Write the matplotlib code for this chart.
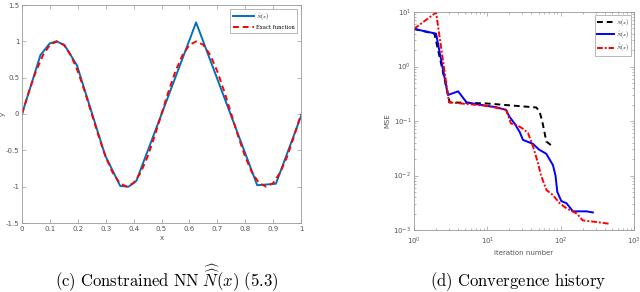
import matplotlib
matplotlib.use('Agg')
import matplotlib.pyplot as plt
from matplotlib.ticker import LogLocator, NullFormatter

plt.rcParams['mathtext.fontset'] = 'cm'

# (c) constrained NN vs exact function
x_nn = [0, 0.066, 0.099, 0.123, 0.152, 0.197, 0.298, 0.352, 0.382, 0.41,
        0.624, 0.843, 0.91, 1.0]
y_nn = [0, 0.81, 0.97, 1.0, 0.95, 0.67, -0.57, -0.99, -1.0, -0.92,
        1.26, -0.98, -0.96, -0.03]

x_exact = [0, 0.025, 0.05, 0.075, 0.1, 0.125, 0.15, 0.175, 0.2, 0.225,
           0.25, 0.275, 0.3, 0.325, 0.35, 0.375, 0.4, 0.425, 0.45, 0.475,
           0.5, 0.525, 0.55, 0.575, 0.6, 0.625, 0.65, 0.675, 0.7, 0.725,
           0.75, 0.775, 0.8, 0.825, 0.85, 0.875, 0.9, 0.925, 0.95, 0.975, 1.0]
y_exact = [0, 0.309, 0.588, 0.809, 0.951, 1.0, 0.951, 0.809, 0.588, 0.309,
           0, -0.309, -0.588, -0.809, -0.951, -1.0, -0.951, -0.809, -0.588, -0.309,
           0, 0.309, 0.588, 0.809, 0.951, 1.0, 0.951, 0.809, 0.588, 0.309,
           0, -0.309, -0.588, -0.809, -0.951, -1.0, -0.951, -0.809, -0.588, -0.309, 0]

# (d) convergence history
it_N = [1, 1.9, 3.07, 9.7, 46.6, 51.6, 56, 60.6, 63.7, 74, 80]
mse_N = [4.9, 4.0, 0.22, 0.21, 0.177, 0.148, 0.1, 0.059, 0.042, 0.036, 0.036]

it_hat = [1, 2, 2.9, 4, 5.2, 9.7, 13, 18, 20, 23.5, 27.6, 30.6, 42, 50.5,
          63.7, 78.5, 85, 90, 102, 120, 147, 224, 275]
mse_hat = [4.9, 4.0, 0.30, 0.35, 0.22, 0.19, 0.18, 0.16, 0.12, 0.09, 0.063,
           0.045, 0.038, 0.030, 0.025, 0.0155, 0.010, 0.005, 0.0034, 0.0031,
           0.0022, 0.0022, 0.0021]

it_hh = [1, 2, 3, 9.7, 18, 21, 25, 30.6, 35.9, 42, 49, 54, 64, 78, 97,
         120, 166, 200, 308, 467]
mse_hh = [4.9, 9.8, 0.22, 0.19, 0.16, 0.09, 0.085, 0.072, 0.06, 0.034, 0.017,
          0.010, 0.0054, 0.0044, 0.0031, 0.0025, 0.002, 0.0015, 0.0014, 0.0013]

fig = plt.figure(figsize=(6.4, 2.92), dpi=100)
W, H = 640.0, 292.0

tick_col = '#555555'
frame_col = '#999999'

def style(ax):
    for s in ax.spines.values():
        s.set_color(frame_col)
        s.set_linewidth(0.6)
    ax.tick_params(which='both', direction='in', top=True, right=True,
                   colors=frame_col, labelcolor=tick_col, labelsize=5,
                   width=0.5, pad=2)
    ax.tick_params(which='major', length=3)
    ax.tick_params(which='minor', length=1.5)

# left panel
ax1 = fig.add_axes([22 / W, 1 - 223 / H, (301 - 22) / W, (223 - 5) / H])
ax1.plot(x_nn, y_nn, color='#0072BD', lw=1.4, label=r'$\hat{N}(x)$')
ax1.plot(x_exact, y_exact, color='#FF0000', lw=1.4, ls=(0, (3, 2)),
         label='Exact function')
ax1.set_xlim(0, 1)
ax1.set_ylim(-1.5, 1.5)
ax1.set_xticks([0, 0.1, 0.2, 0.3, 0.4, 0.5, 0.6, 0.7, 0.8, 0.9, 1])
ax1.set_xticklabels(['0', '0.1', '0.2', '0.3', '0.4', '0.5', '0.6', '0.7', '0.8', '0.9', '1'])
ax1.set_yticks([-1.5, -1, -0.5, 0, 0.5, 1, 1.5])
ax1.set_yticklabels(['-1.5', '-1', '-0.5', '0', '0.5', '1', '1.5'])
style(ax1)
ax1.set_xlabel('x', fontsize=5, color=tick_col, labelpad=2)
ax1.set_ylabel('y', fontsize=5, color=tick_col)
ax1.yaxis.set_label_coords(-16 / (301 - 22), 0.5)
leg = ax1.legend(loc='upper right', prop={'family': 'DejaVu Serif', 'size': 3.8},
                 handlelength=4.0, handletextpad=0.4, frameon=True, fancybox=False,
                 borderaxespad=0.7, labelspacing=0.5, borderpad=0.5)
leg.get_frame().set_edgecolor(frame_col)
leg.get_frame().set_linewidth(0.6)

# right panel
ax2 = fig.add_axes([414 / W, 1 - 230 / H, (634 - 414) / W, (230 - 12) / H])
ax2.loglog(it_N, mse_N, color='black', lw=1.4, ls=(0, (3, 2)), label=r'$N(x)$')
ax2.loglog(it_hat, mse_hat, color='#0000FF', lw=1.4, label=r'$\hat{N}(x)$')
ax2.loglog(it_hh, mse_hh, color='#FF0000', lw=1.4, ls=(0, (3, 1, 1, 1)),
           label=r'$\hat{\hat{N}}(x)$')
ax2.set_xlim(1, 1000)
ax2.set_ylim(1e-3, 10)
ax2.xaxis.set_major_locator(LogLocator(base=10, numticks=10))
ax2.xaxis.set_minor_locator(LogLocator(base=10, subs=range(2, 10), numticks=20))
ax2.yaxis.set_major_locator(LogLocator(base=10, numticks=10))
ax2.yaxis.set_minor_locator(LogLocator(base=10, subs=range(2, 10), numticks=20))
ax2.xaxis.set_minor_formatter(NullFormatter())
ax2.yaxis.set_minor_formatter(NullFormatter())
style(ax2)
ax2.tick_params(axis='x', which='both', pad=4)
ax2.set_xlabel('iteration number', fontsize=5, color=tick_col, labelpad=2)
ax2.set_ylabel('MSE', fontsize=5, color=tick_col, labelpad=2)
leg2 = ax2.legend(loc='upper right', fontsize=3.8, handlelength=3.2, frameon=True,
                  fancybox=False, borderaxespad=0.5, labelspacing=0.3,
                  handletextpad=0.4, borderpad=0.4)
leg2.get_frame().set_edgecolor(frame_col)
leg2.get_frame().set_linewidth(0.6)

# captions
fig.text(167 / W, 1 - 286 / H,
         r'$\mathrm{(c)\ Constrained\ NN}\ \widehat{\widehat{N}}(x)\ \mathrm{(5.3)}$',
         ha='center', va='baseline', fontsize=12)
fig.text(518 / W, 1 - 286 / H, r'$\mathrm{(d)\ Convergence\ history}$',
         ha='center', va='baseline', fontsize=12)

fig.savefig('out.png', dpi=100)
